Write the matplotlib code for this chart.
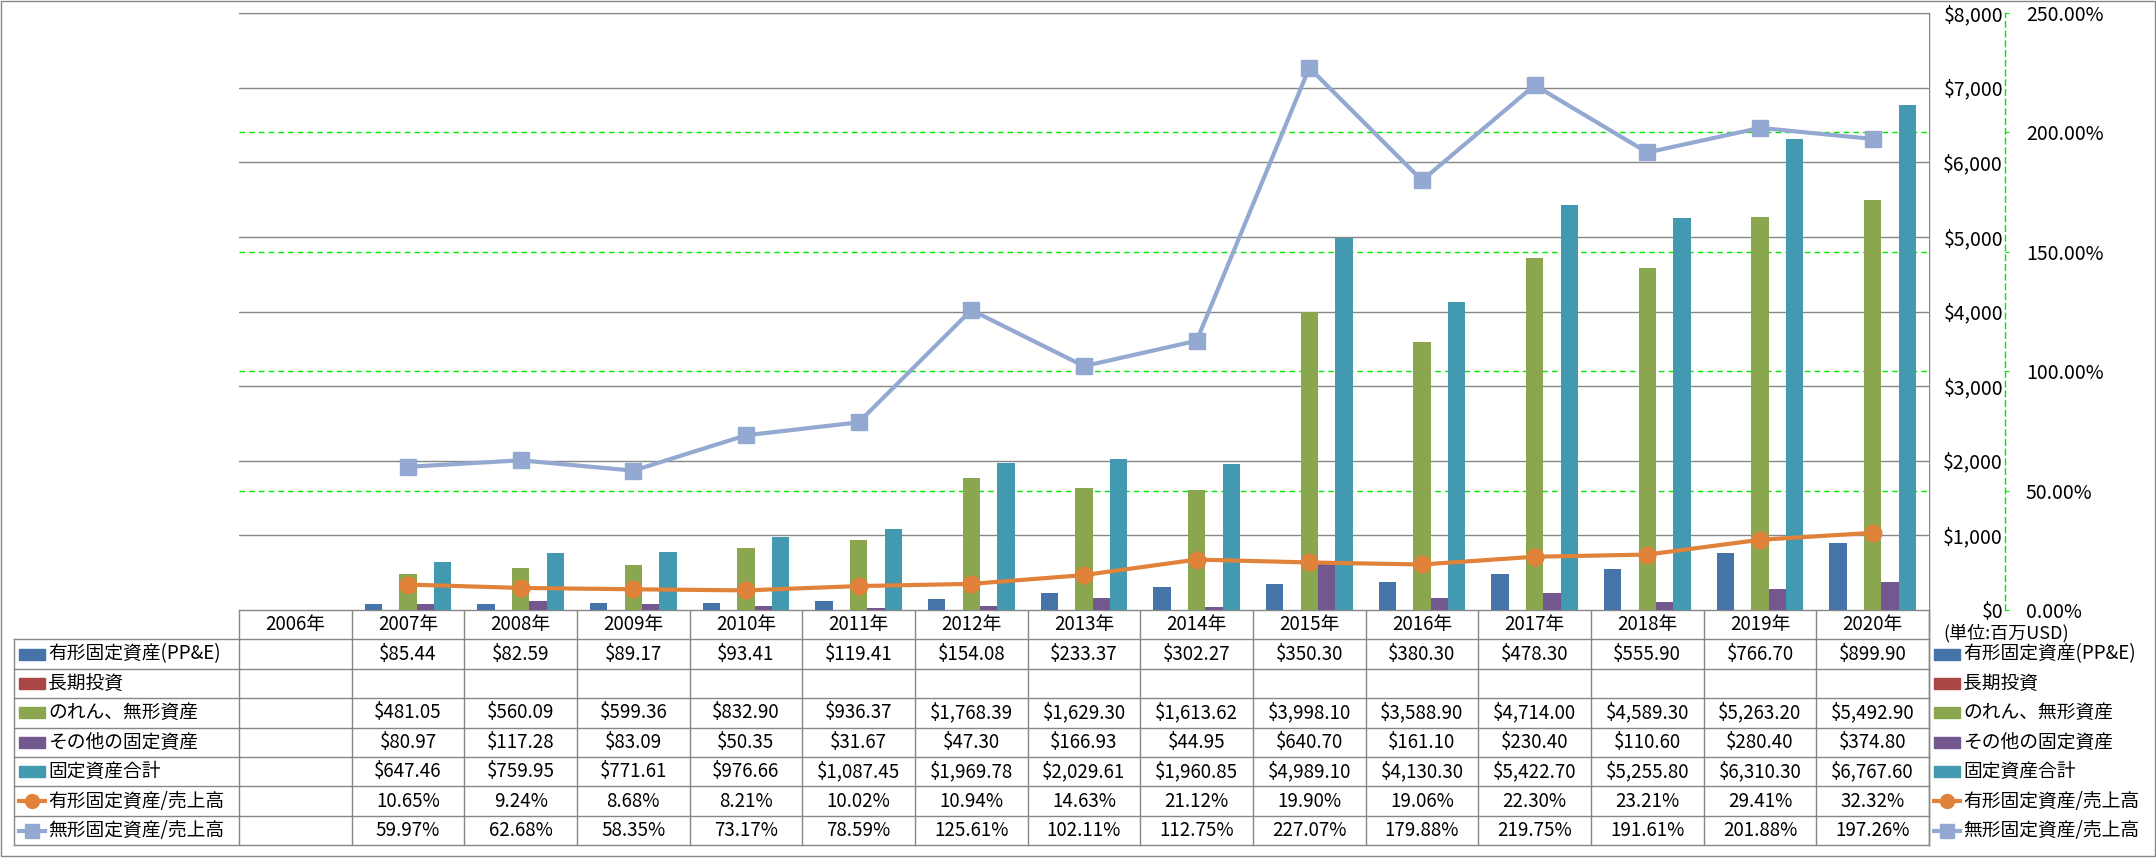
import numpy as np
import matplotlib
matplotlib.use("Agg")
import matplotlib.pyplot as plt
from matplotlib.patches import Rectangle
from matplotlib.lines import Line2D

plt.rcParams['font.family'] = ['Noto Sans CJK JP', 'DejaVu Sans']

# ---------------- data ----------------
years = ["2006年", "2007年", "2008年", "2009年", "2010年", "2011年", "2012年", "2013年",
         "2014年", "2015年", "2016年", "2017年", "2018年", "2019年", "2020年"]
ppe = [None, 85.44, 82.59, 89.17, 93.41, 119.41, 154.08, 233.37, 302.27, 350.30,
       380.30, 478.30, 555.90, 766.70, 899.90]
lt_invest = [None] * 15
goodwill = [None, 481.05, 560.09, 599.36, 832.90, 936.37, 1768.39, 1629.30, 1613.62,
            3998.10, 3588.90, 4714.00, 4589.30, 5263.20, 5492.90]
other_fixed = [None, 80.97, 117.28, 83.09, 50.35, 31.67, 47.30, 166.93, 44.95, 640.70,
               161.10, 230.40, 110.60, 280.40, 374.80]
total_fixed = [None, 647.46, 759.95, 771.61, 976.66, 1087.45, 1969.78, 2029.61, 1960.85,
               4989.10, 4130.30, 5422.70, 5255.80, 6310.30, 6767.60]
ppe_ratio = [None, 10.65, 9.24, 8.68, 8.21, 10.02, 10.94, 14.63, 21.12, 19.90, 19.06,
             22.30, 23.21, 29.41, 32.32]
intang_ratio = [None, 59.97, 62.68, 58.35, 73.17, 78.59, 125.61, 102.11, 112.75, 227.07,
                179.88, 219.75, 191.61, 201.88, 197.26]

bar_names = ["有形固定資産(PP&E)", "長期投資", "のれん、無形資産", "その他の固定資産", "固定資産合計"]
line_names = ["有形固定資産/売上高", "無形固定資産/売上高"]
bar_colors = ["#4673A8", "#AA4643", "#8AA64E", "#72588F", "#4299B0"]
line_colors = ["#E0823A", "#93A9D1"]

left_ticks = [0, 1000, 2000, 3000, 4000, 5000, 6000, 7000, 8000]
right_ticks = [0, 50, 100, 150, 200, 250]
unit_label = "(単位:百万USD)"

# ---------------- layout (pixels) ----------------
W, H = 2156, 858
fig = plt.figure(figsize=(W / 100, H / 100), dpi=100)
fig.patch.set_facecolor("white")

plot_l, plot_r, plot_t, plot_b = 239, 1929, 13, 610
row_h = 29.4
n_rows = 8
tbl_bot = plot_b + row_h * n_rows
lab_l = 14
FS = 13.5
AFS = 14
GRAY = "#868686"
GREEN = "#00E600"


def fx(x):
    return x / W


def fy(y):
    return 1 - y / H


def arr(v):
    return np.array([np.nan if a is None else a for a in v], dtype=float)


bg = fig.add_axes([0, 0, 1, 1])
bg.set_xlim(0, W)
bg.set_ylim(H, 0)
bg.axis("off")

rect = [fx(plot_l), fy(plot_b), (plot_r - plot_l) / W, (plot_b - plot_t) / H]

# green gridlines (secondary scale) at the bottom
ax_grid = fig.add_axes(rect)
ax_grid.set_ylim(0, 250)
ax_grid.set_xlim(-0.5, 14.5)
ax_grid.set_yticks(right_ticks[1:-1])
ax_grid.grid(axis="y", color=GREEN, linestyle=(0, (4, 3)), linewidth=1)
ax_grid.tick_params(left=False, bottom=False, labelleft=False, labelbottom=False)
for s in ax_grid.spines.values():
    s.set_visible(False)

# bars (primary)
ax = fig.add_axes(rect)
ax.patch.set_alpha(0)
x = np.arange(len(years))
series = [ppe, lt_invest, goodwill, other_fixed, total_fixed]
bw = 1 / 6.5
for i, (vals, c) in enumerate(zip(series, bar_colors)):
    ax.bar(x + (i - 2) * bw, arr(vals), width=bw, color=c, zorder=3)
ax.set_xlim(-0.5, 14.5)
ax.set_ylim(0, 8000)
ax.set_yticks(left_ticks)
ax.grid(axis="y", color=GRAY, linewidth=1)
ax.set_axisbelow(True)
ax.set_xticks([])
for k in ["left", "bottom"]:
    ax.spines[k].set_visible(False)
ax.spines["top"].set_color(GRAY)
ax.spines["right"].set_visible(False)

# lines (secondary)
ax2 = ax.twinx()
ax2.set_ylim(0, 250)
ax2.plot(x, arr(ppe_ratio), color=line_colors[0], lw=3, marker="o", ms=12,
         markeredgecolor=line_colors[0], zorder=5, solid_capstyle="round")
ax2.plot(x, arr(intang_ratio), color=line_colors[1], lw=3, marker="s", ms=12,
         markeredgecolor=line_colors[1], zorder=5, solid_capstyle="round")
for k in ["left", "top", "bottom"]:
    ax2.spines[k].set_visible(False)
ax2.spines["right"].set_position(("outward", (2005 - plot_r) * 0.72))
ax2.spines["right"].set_color(GREEN)
ax2.spines["right"].set_linestyle((0, (4, 3)))
ax2.spines["right"].set_linewidth(1)
ax2.set_yticks(right_ticks)
ax2.set_yticklabels([f"{v:.2f}%" for v in right_ticks])
ax2.tick_params(axis="y", direction="out", length=3, color=GREEN, labelsize=AFS, pad=12)

# primary tick labels on the right, right-aligned
ax.yaxis.tick_right()
ax.set_yticks(left_ticks)
ax.set_yticklabels([f"${v:,.0f}" for v in left_ticks])
ax.tick_params(axis="y", length=0, labelsize=AFS, pad=(2003 - plot_r) * 0.72,
               right=False, left=False, labelright=True, labelleft=False)
for lbl in ax.get_yticklabels():
    lbl.set_horizontalalignment("right")

# ---------------- table ----------------
col_w = (plot_r - plot_l) / len(years)
lk = dict(color=GRAY, lw=1)
bg.plot([plot_l, plot_r], [plot_b, plot_b], **lk)
for j in range(len(years) + 1):
    xx = plot_l + j * col_w
    bg.plot([xx, xx], [plot_b, tbl_bot], **lk)
bg.plot([plot_r, plot_r], [plot_t, tbl_bot], **lk)
for j, yl in enumerate(years):
    bg.text(plot_l + (j + 0.5) * col_w, plot_b + row_h / 2, yl, ha="center",
            va="center", fontsize=FS)
for r in range(1, n_rows + 1):
    yy = plot_b + r * row_h
    bg.plot([lab_l, plot_r], [yy, yy], **lk)
bg.plot([lab_l, lab_l], [plot_b + row_h, tbl_bot], **lk)

rows = [(bar_names[0], ppe, "$"), (bar_names[1], lt_invest, "$"),
        (bar_names[2], goodwill, "$"), (bar_names[3], other_fixed, "$"),
        (bar_names[4], total_fixed, "$"), (line_names[0], ppe_ratio, "%"),
        (line_names[1], intang_ratio, "%")]
key_styles = [("bar", bar_colors[0], None), ("bar", bar_colors[1], None),
              ("bar", bar_colors[2], None), ("bar", bar_colors[3], None),
              ("bar", bar_colors[4], None), ("line", line_colors[0], "o"),
              ("line", line_colors[1], "s")]


def draw_key(x0, yc, style):
    kind, c, m = style
    if kind == "bar":
        bg.add_patch(Rectangle((x0, yc - 5.5), 26, 11, color=c))
    else:
        bg.add_line(Line2D([x0, x0 + 26], [yc, yc], color=c, lw=3))
        bg.add_line(Line2D([x0 + 13], [yc], color=c, marker=m, ms=10, lw=0))


for r, ((name, vals, kind), st) in enumerate(zip(rows, key_styles)):
    yc = plot_b + (r + 1.5) * row_h
    draw_key(lab_l + 5, yc, st)
    bg.text(lab_l + 34, yc, name, ha="left", va="center", fontsize=FS)
    for j, v in enumerate(vals):
        if v is None:
            continue
        s = f"${v:,.2f}" if kind == "$" else f"{v:.2f}%"
        bg.text(plot_l + (j + 0.5) * col_w, yc, s, ha="center", va="center", fontsize=FS)
    draw_key(1934, yc, st)
    bg.text(1963, yc, name, ha="left", va="center", fontsize=FS)

bg.text(1943, 633, unit_label, ha="left", va="center", fontsize=13)

# outer border
bg.add_patch(Rectangle((0.5, 1), W - 1.5, H - 3, fill=False, edgecolor=GRAY, lw=1))

fig.savefig("out.png", dpi=100)
